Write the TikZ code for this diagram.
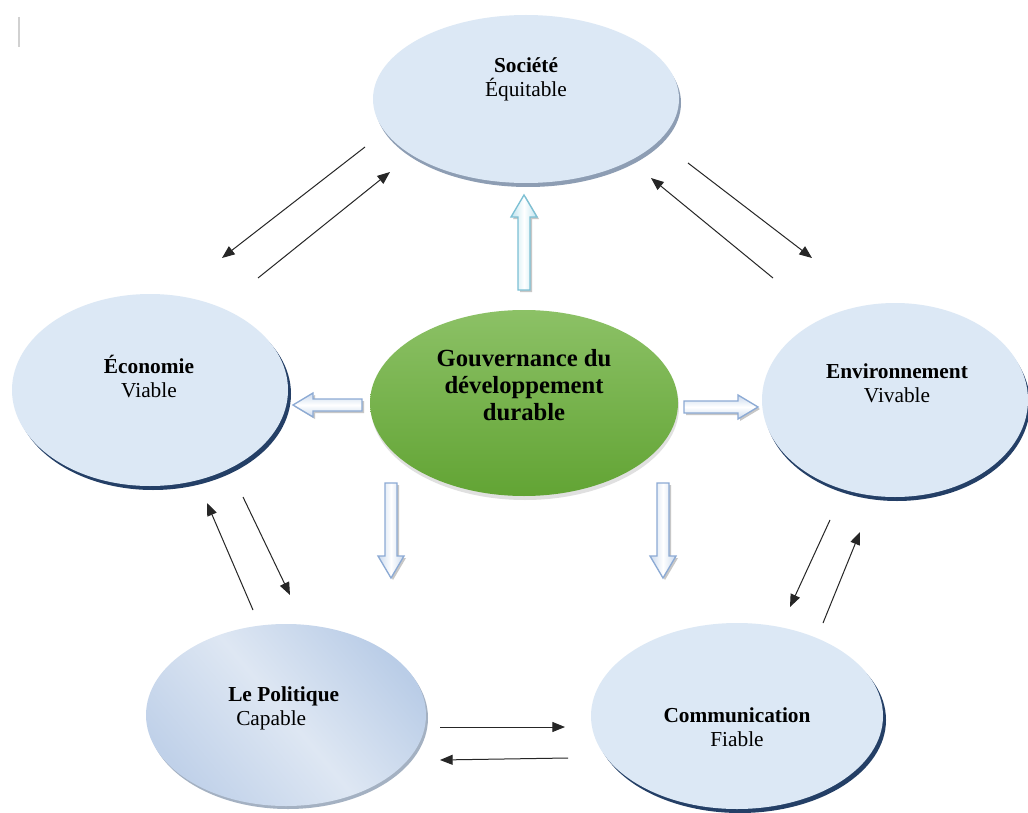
\documentclass[tikz,border=0pt]{standalone}
\usepackage{fontspec}
\setmainfont{Liberation Serif}
\usetikzlibrary{arrows.meta,shapes.geometric}
\definecolor{bubfill}{HTML}{DCE8F5}
\definecolor{navyshadow}{HTML}{243F66}
\definecolor{greyshadow}{HTML}{8D9DB3}
\definecolor{greentop}{HTML}{8CC166}
\definecolor{greenbot}{HTML}{62A434}
\definecolor{cyanline}{HTML}{7CC0D4}
\definecolor{cyanfill}{HTML}{BFE4EF}
\definecolor{blueline}{HTML}{8CAAD4}
\definecolor{bluefill}{HTML}{CBDAEE}
\definecolor{polA}{HTML}{BACDE7}
\definecolor{polB}{HTML}{DEE7F3}
\definecolor{polC}{HTML}{C0D1E9}
\begin{document}
\begin{tikzpicture}[x=0.75pt,y=-0.75pt,
  bub/.style 2 args={ellipse,inner sep=0pt,minimum width={#1*1.5pt},minimum height={#2*1.5pt}},
  bubtext/.style={align=center,font=\fontsize{16}{18}\selectfont,inner sep=0pt},
  blk/.style={-{Triangle[length=9.5pt,width=7.5pt]},line width=0.75pt,black!85},
  cyanarrow/.style={draw=cyanline,line width=1pt,left color=cyanfill,right color=cyanfill,middle color=white},
  bluevarrow/.style={draw=blueline,line width=1pt,left color=bluefill,right color=bluefill,middle color=white},
  bluharrow/.style={draw=blueline,line width=1pt,top color=bluefill,bottom color=bluefill,middle color=white},
  arrowshadow/.style={fill=black!22,draw=none}
]
\useasboundingbox (0,0) rectangle (1028,813);
\fill[white] (0,0) rectangle (1028,813);

% cursor mark
\draw[line width=1pt,black!18] (19,17) -- (19,47);

% ---- shadows
\node[bub={153}{84},fill=greyshadow] (socsh) at (528,103) {};
\node[bub={138}{96},fill=navyshadow] (ecosh) at (153,394) {};
\node[bub={133}{97},fill=navyshadow] (envsh) at (897,404) {};
\node[bub={140}{91},fill=greyshadow!80] (polsh) at (288,718) {};
\node[bub={146}{93},fill=navyshadow] (comsh) at (740,720) {};
\node[bub={154}{93},fill=black!12] (govsh) at (525,407) {};

% ---- bubbles
\node[bub={153}{84},fill=bubfill] (soc) at (526,99) {};
\node[bub={138}{96},fill=bubfill] (eco) at (150,390) {};
\node[bub={133}{97},fill=bubfill] (env) at (895,400) {};
\node[bub={140}{91},top color=polA,bottom color=polC,middle color=polB,shading angle=-50] (pol) at (286,715) {};
\node[bub={146}{93},fill=bubfill] (com) at (737,716) {};
\node[bub={154}{93},top color=greentop,bottom color=greenbot] (gov) at (524,403) {};

% ---- texts
\node[bubtext] (soct) at (526,79) {\textbf{Société}\\Équitable};
\node[bubtext] (ecot) at (149,377) {\textbf{Économie}\\Viable};
\node[bubtext] (envt) at (897,383) {\textbf{Environnement}\\Vivable};
\node[bubtext,align=left,anchor=west] (polt) at (228,708) {\textbf{Le Politique}\\\hspace{6pt}Capable};
\node[bubtext] (comt) at (737,727) {\textbf{Communication}\\Fiable};
\node[align=center,inner sep=0pt,font=\fontsize{18.5}{20.3}\selectfont\bfseries] (govt) at (524,385)
  {Gouvernance du\\développement\\durable};

% ---- block arrows (shadows)
\begin{scope}[shift={(2,2)}]
\path[arrowshadow] (518,290) -- (518,217) -- (511,217) -- (524,195) -- (537,217) -- (530,217) -- (530,290) -- cycle;
\path[arrowshadow] (362,399) -- (313,399) -- (313,393) -- (293,405) -- (313,417) -- (313,411) -- (362,411) -- cycle;
\path[arrowshadow] (684,401) -- (738,401) -- (738,395) -- (758,407) -- (738,419) -- (738,413) -- (684,413) -- cycle;
\path[arrowshadow] (385,483) -- (385,556) -- (378,556) -- (391,578) -- (404,556) -- (397,556) -- (397,483) -- cycle;
\path[arrowshadow] (657,483) -- (657,556) -- (650,556) -- (663,578) -- (676,556) -- (669,556) -- (669,483) -- cycle;
\end{scope}
% ---- block arrows
\path[cyanarrow] (518,290) -- (518,217) -- (511,217) -- (524,195) -- (537,217) -- (530,217) -- (530,290) -- cycle;
\path[bluharrow] (362,399) -- (313,399) -- (313,393) -- (293,405) -- (313,417) -- (313,411) -- (362,411) -- cycle;
\path[bluharrow] (684,401) -- (738,401) -- (738,395) -- (758,407) -- (738,419) -- (738,413) -- (684,413) -- cycle;
\path[bluevarrow] (385,483) -- (385,556) -- (378,556) -- (391,578) -- (404,556) -- (397,556) -- (397,483) -- cycle;
\path[bluevarrow] (657,483) -- (657,556) -- (650,556) -- (663,578) -- (676,556) -- (669,556) -- (669,483) -- cycle;

% ---- connector end points
\coordinate (a1s) at (365,147); \coordinate (a1e) at (222,258);
\coordinate (a2s) at (258,278); \coordinate (a2e) at (390,172);
\coordinate (a3s) at (688,163); \coordinate (a3e) at (812,258);
\coordinate (a4s) at (773,278); \coordinate (a4e) at (651,178);
\coordinate (a5s) at (243,497); \coordinate (a5e) at (290,595);
\coordinate (a6s) at (253,610); \coordinate (a6e) at (207,503);
\coordinate (a7s) at (830,520); \coordinate (a7e) at (790,607);
\coordinate (a8s) at (823,623); \coordinate (a8e) at (860,532);
\coordinate (a9s) at (440,727); \coordinate (a9e) at (565,727);
\coordinate (a10s) at (568,758); \coordinate (a10e) at (440,760);

\draw[blk] (a1s) -- (a1e);
\draw[blk] (a2s) -- (a2e);
\draw[blk] (a3s) -- (a3e);
\draw[blk] (a4s) -- (a4e);
\draw[blk] (a5s) -- (a5e);
\draw[blk] (a6s) -- (a6e);
\draw[blk] (a7s) -- (a7e);
\draw[blk] (a8s) -- (a8e);
\draw[blk] (a9s) -- (a9e);
\draw[blk] (a10s) -- (a10e);
\end{tikzpicture}
\end{document}
